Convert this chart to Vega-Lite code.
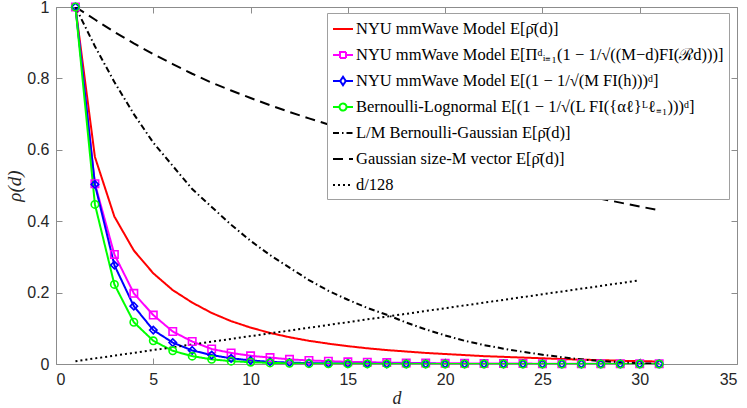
{
  "$schema": "https://vega.github.io/schema/vega-lite/v6.json",
  "width": 681,
  "height": 357,
  "autosize": {"type": "none"},
  "padding": {"left": 56, "top": 7, "right": 10, "bottom": 44},
  "background": "white",
  "config": {"view": {"stroke": null}},
  "data": {"values": [
    {"s":"A","d":1,"v":1},{"s":"A","d":2,"v":0.58},{"s":"A","d":3,"v":0.413},{"s":"A","d":4,"v":0.318},{"s":"A","d":5,"v":0.254},{"s":"A","d":6,"v":0.207},{"s":"A","d":7,"v":0.172},{"s":"A","d":8,"v":0.143},{"s":"A","d":9,"v":0.12},{"s":"A","d":10,"v":0.102},{"s":"A","d":11,"v":0.087},{"s":"A","d":12,"v":0.075},{"s":"A","d":13,"v":0.065},{"s":"A","d":14,"v":0.057},{"s":"A","d":15,"v":0.05},{"s":"A","d":16,"v":0.044},{"s":"A","d":17,"v":0.039},{"s":"A","d":18,"v":0.035},{"s":"A","d":19,"v":0.031},{"s":"A","d":20,"v":0.028},{"s":"A","d":21,"v":0.025},{"s":"A","d":22,"v":0.022},{"s":"A","d":23,"v":0.02},{"s":"A","d":24,"v":0.018},{"s":"A","d":25,"v":0.016},{"s":"A","d":26,"v":0.014},{"s":"A","d":27,"v":0.012},{"s":"A","d":28,"v":0.011},{"s":"A","d":29,"v":0.009},{"s":"A","d":30,"v":0.008},{"s":"A","d":31,"v":0.007},
    {"s":"B","d":1,"v":1},{"s":"B","d":2,"v":0.505},{"s":"B","d":3,"v":0.307},{"s":"B","d":4,"v":0.198},{"s":"B","d":5,"v":0.137},{"s":"B","d":6,"v":0.091},{"s":"B","d":7,"v":0.063},{"s":"B","d":8,"v":0.042},{"s":"B","d":9,"v":0.031},{"s":"B","d":10,"v":0.023},{"s":"B","d":11,"v":0.018},{"s":"B","d":12,"v":0.013},{"s":"B","d":13,"v":0.01},{"s":"B","d":14,"v":0.008},{"s":"B","d":15,"v":0.006},{"s":"B","d":16,"v":0.005},{"s":"B","d":17,"v":0.004},{"s":"B","d":18,"v":0.003},{"s":"B","d":19,"v":0.0025},{"s":"B","d":20,"v":0.002},{"s":"B","d":21,"v":0.0018},{"s":"B","d":22,"v":0.0015},{"s":"B","d":23,"v":0.0013},{"s":"B","d":24,"v":0.0011},{"s":"B","d":25,"v":0.001},{"s":"B","d":26,"v":0.0009},{"s":"B","d":27,"v":0.0008},{"s":"B","d":28,"v":0.0007},{"s":"B","d":29,"v":0.0006},{"s":"B","d":30,"v":0.0005},{"s":"B","d":31,"v":0.0005},
    {"s":"C","d":1,"v":1},{"s":"C","d":2,"v":0.503},{"s":"C","d":3,"v":0.277},{"s":"C","d":4,"v":0.162},{"s":"C","d":5,"v":0.095},{"s":"C","d":6,"v":0.06},{"s":"C","d":7,"v":0.038},{"s":"C","d":8,"v":0.025},{"s":"C","d":9,"v":0.016},{"s":"C","d":10,"v":0.01},{"s":"C","d":11,"v":0.006},{"s":"C","d":12,"v":0.004},{"s":"C","d":13,"v":0.0025},{"s":"C","d":14,"v":0.0015},{"s":"C","d":15,"v":0.001},{"s":"C","d":16,"v":0.0008},{"s":"C","d":17,"v":0.0006},{"s":"C","d":18,"v":0.0005},{"s":"C","d":19,"v":0.0004},{"s":"C","d":20,"v":0.0003},{"s":"C","d":21,"v":0.0003},{"s":"C","d":22,"v":0.0002},{"s":"C","d":23,"v":0.0002},{"s":"C","d":24,"v":0.0002},{"s":"C","d":25,"v":0.0001},{"s":"C","d":26,"v":0.0001},{"s":"C","d":27,"v":0.0001},{"s":"C","d":28,"v":0.0001},{"s":"C","d":29,"v":0.0001},{"s":"C","d":30,"v":0.0001},{"s":"C","d":31,"v":0.0001},
    {"s":"D","d":1,"v":1},{"s":"D","d":2,"v":0.447},{"s":"D","d":3,"v":0.223},{"s":"D","d":4,"v":0.117},{"s":"D","d":5,"v":0.065},{"s":"D","d":6,"v":0.037},{"s":"D","d":7,"v":0.022},{"s":"D","d":8,"v":0.013},{"s":"D","d":9,"v":0.008},{"s":"D","d":10,"v":0.005},{"s":"D","d":11,"v":0.003},{"s":"D","d":12,"v":0.002},{"s":"D","d":13,"v":0.001},{"s":"D","d":14,"v":0.0007},{"s":"D","d":15,"v":0.0005},{"s":"D","d":16,"v":0.0003},{"s":"D","d":17,"v":0.0002},{"s":"D","d":18,"v":0.0001},{"s":"D","d":19,"v":0.0001},{"s":"D","d":20,"v":0},{"s":"D","d":21,"v":0},{"s":"D","d":22,"v":0},{"s":"D","d":23,"v":0},{"s":"D","d":24,"v":0},{"s":"D","d":25,"v":0},{"s":"D","d":26,"v":0},{"s":"D","d":27,"v":0},{"s":"D","d":28,"v":0},{"s":"D","d":29,"v":0},{"s":"D","d":30,"v":0},{"s":"D","d":31,"v":0},
    {"s":"E","d":1,"v":1},{"s":"E","d":2,"v":0.89},{"s":"E","d":3,"v":0.79},{"s":"E","d":4,"v":0.7},{"s":"E","d":5,"v":0.62},{"s":"E","d":6,"v":0.555},{"s":"E","d":7,"v":0.49},{"s":"E","d":8,"v":0.44},{"s":"E","d":9,"v":0.39},{"s":"E","d":10,"v":0.345},{"s":"E","d":11,"v":0.305},{"s":"E","d":12,"v":0.27},{"s":"E","d":13,"v":0.235},{"s":"E","d":14,"v":0.205},{"s":"E","d":15,"v":0.18},{"s":"E","d":16,"v":0.157},{"s":"E","d":17,"v":0.138},{"s":"E","d":18,"v":0.116},{"s":"E","d":19,"v":0.097},{"s":"E","d":20,"v":0.08},{"s":"E","d":21,"v":0.065},{"s":"E","d":22,"v":0.053},{"s":"E","d":23,"v":0.043},{"s":"E","d":24,"v":0.034},{"s":"E","d":25,"v":0.026},{"s":"E","d":26,"v":0.019},{"s":"E","d":27,"v":0.013},{"s":"E","d":28,"v":0.008},{"s":"E","d":29,"v":0.005},{"s":"E","d":30,"v":0.002},{"s":"E","d":31,"v":0.001},
    {"s":"F","d":1,"v":1},{"s":"F","d":2,"v":0.965},{"s":"F","d":3,"v":0.93},{"s":"F","d":4,"v":0.898},{"s":"F","d":5,"v":0.868},{"s":"F","d":6,"v":0.84},{"s":"F","d":7,"v":0.813},{"s":"F","d":8,"v":0.788},{"s":"F","d":9,"v":0.766},{"s":"F","d":10,"v":0.745},{"s":"F","d":11,"v":0.725},{"s":"F","d":12,"v":0.706},{"s":"F","d":13,"v":0.688},{"s":"F","d":14,"v":0.671},{"s":"F","d":15,"v":0.655},{"s":"F","d":16,"v":0.639},{"s":"F","d":17,"v":0.623},{"s":"F","d":18,"v":0.608},{"s":"F","d":19,"v":0.593},{"s":"F","d":20,"v":0.578},{"s":"F","d":21,"v":0.563},{"s":"F","d":22,"v":0.548},{"s":"F","d":23,"v":0.533},{"s":"F","d":24,"v":0.518},{"s":"F","d":25,"v":0.503},{"s":"F","d":26,"v":0.488},{"s":"F","d":27,"v":0.474},{"s":"F","d":28,"v":0.463},{"s":"F","d":29,"v":0.452},{"s":"F","d":30,"v":0.441},{"s":"F","d":31,"v":0.431},
    {"s":"G","d":1,"v":0.0078125},{"s":"G","d":30,"v":0.234375}
  ]},
  "layer": [
    {
      "mark": {"type": "line", "strokeWidth": 2, "clip": true},
      "encoding": {
        "x": {"field": "d", "type": "quantitative", "scale": {"domain": [0, 35], "nice": false, "zero": false},
          "axis": {"orient": "bottom", "values": [0,5,10,15,20,25,30,35], "title": "d", "grid": false,
            "titleFont": "Liberation Serif", "titleFontStyle": "italic", "titleFontWeight": "normal", "titleFontSize": 18, "titleColor": "#262626", "titlePadding": 2,
            "labelFont": "Liberation Sans", "labelFontSize": 16, "labelColor": "#262626", "labelPadding": 13,
            "domainColor": "#8c8c8c", "tickColor": "#8c8c8c", "tickSize": -6}},
        "y": {"field": "v", "type": "quantitative", "scale": {"domain": [0, 1], "nice": false},
          "axis": {"orient": "left", "values": [0,0.2,0.4,0.6,0.8,1], "format": "~g", "title": "ρ(d)", "grid": false,
            "titleFont": "Liberation Serif", "titleFontStyle": "italic", "titleFontWeight": "normal", "titleFontSize": 19, "titleColor": "#262626", "titlePadding": 2,
            "labelFont": "Liberation Sans", "labelFontSize": 16, "labelColor": "#262626", "labelPadding": 13,
            "domainColor": "#8c8c8c", "tickColor": "#8c8c8c", "tickSize": -6}},
        "color": {"field": "s", "type": "nominal",
          "scale": {"domain": ["A","B","C","D","E","F","G"], "range": ["#ff0000","#ff00ff","#0000ff","#00ff00","#000000","#000000","#000000"]},
          "legend": {"orient": "none", "legendX": 271, "legendY": 6, "title": null,
            "labelExpr": "datum.value=='A' ? 'NYU mmWave Model E[ρ̄(d)]' : datum.value=='B' ? 'NYU mmWave Model E[Πᵈᵢ₌₁(1 − 1/√((M−d)FI(ℛd)))]' : datum.value=='C' ? 'NYU mmWave Model E[(1 − 1/√(M FI(h)))ᵈ]' : datum.value=='D' ? 'Bernoulli-Lognormal E[(1 − 1/√(L FI({αℓ}ᴸℓ₌₁)))ᵈ]' : datum.value=='E' ? 'L/M Bernoulli-Gaussian E[ρ̄(d)]' : datum.value=='F' ? 'Gaussian size-M vector E[ρ̄(d)]' : 'd/128'",
            "labelFont": "Liberation Serif", "labelFontSize": 16.5, "labelColor": "#000000", "labelLimit": 600, "labelOffset": 2,
            "symbolSize": 400, "symbolStrokeWidth": 2, "symbolType": "stroke", "rowPadding": 6, "padding": 5,
            "strokeColor": "#a0a0a0", "fillColor": "white",
            "encode": {"symbols": {"update": {
              "shape": {"signal": "datum.value=='B' ? 'M-1,0H-0.3M0.3,0H1M-0.3,-0.3H0.3V0.3H-0.3Z' : datum.value=='C' ? 'M-1,0H-0.28M0.28,0H1M0,-0.42L0.28,0L0,0.42L-0.28,0Z' : datum.value=='D' ? 'M-1,0H-0.35M0.35,0H1M-0.35,0A0.35,0.35 0 1,0 0.35,0A0.35,0.35 0 1,0 -0.35,0Z' : 'stroke'"},
              "fill": {"value": "transparent"}}}}}},
        "strokeDash": {"field": "s", "type": "nominal",
          "scale": {"domain": ["A","B","C","D","E","F","G"], "range": [[1,0],[1,0],[1,0],[1,0],[6,3,1.5,3],[10,6],[2,3]]}}
      }
    },
    {
      "transform": [{"filter": {"field": "s", "oneOf": ["B","C","D"]}}],
      "mark": {"type": "point", "filled": false, "strokeWidth": 1.6, "size": 55, "opacity": 1},
      "encoding": {
        "x": {"field": "d", "type": "quantitative", "axis": null},
        "y": {"field": "v", "type": "quantitative", "axis": null},
        "color": {"field": "s", "type": "nominal"},
        "shape": {"field": "s", "type": "nominal", "scale": {"domain": ["B","C","D"], "range": ["square","diamond","circle"]}, "legend": null}
      }
    },
    {
      "transform": [{"filter": {"field": "s", "equal": "G"}}],
      "mark": {"type": "line", "opacity": 0},
      "encoding": {
        "x": {"field": "d", "type": "quantitative",
          "axis": {"orient": "top", "values": [0,5,10,15,20,25,30,35], "labels": false, "title": null, "grid": false, "domainColor": "#8c8c8c", "tickColor": "#8c8c8c", "tickSize": -6}},
        "y": {"field": "v", "type": "quantitative",
          "axis": {"orient": "right", "values": [0,0.2,0.4,0.6,0.8,1], "labels": false, "title": null, "grid": false, "domainColor": "#8c8c8c", "tickColor": "#8c8c8c", "tickSize": -6}}
      }
    }
  ],
  "resolve": {"axis": {"x": "independent", "y": "independent"}}
}
